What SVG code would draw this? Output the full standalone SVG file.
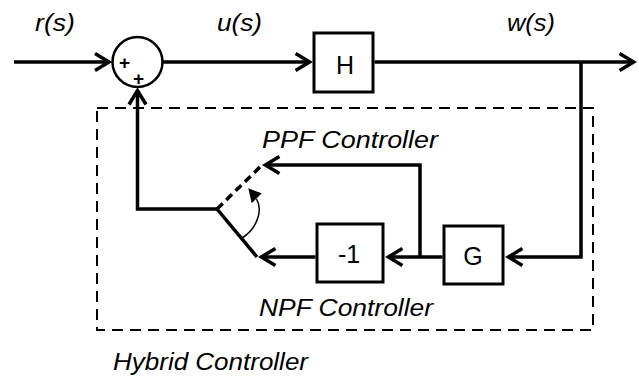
<svg xmlns="http://www.w3.org/2000/svg" width="639" height="377" viewBox="0 0 639 377">
<style>
  .ln { fill: none; stroke: #000; stroke-width: 3.5; stroke-linejoin: miter; }
  .box { fill: #fff; stroke: #000; stroke-width: 3; }
  .lbl { font-family: "Liberation Sans", Arial, sans-serif; font-style: italic; font-size: 24px; fill: #000; }
  .blk { font-family: "Liberation Sans", Arial, sans-serif; font-size: 25px; fill: #000; text-anchor: middle; }
  .pl { font-family: "Liberation Sans", Arial, sans-serif; font-size: 19px; font-weight: bold; fill: #000; text-anchor: middle; }
</style>
<defs>
  <marker id="ah" markerUnits="userSpaceOnUse" markerWidth="24" markerHeight="24" refX="16" refY="10" orient="auto" viewBox="0 0 24 20" overflow="visible">
    <path d="M2,1.5 L16,10 L2,18.5" fill="none" stroke="#000" stroke-width="3.5" stroke-linejoin="miter"/>
  </marker>
</defs>
<rect x="0" y="0" width="639" height="377" fill="#fff"/>

<g id="hybrid-boundary">
  <rect x="97" y="108" width="496" height="222" fill="none" stroke="#000" stroke-width="2" stroke-dasharray="11 7"/>
</g>

<g id="connectors">
  <path class="ln" d="M14 62 L109 62" marker-end="url(#ah)"/>
  <path class="ln" d="M162.5 62 L309.6 62" marker-end="url(#ah)"/>
  <path class="ln" d="M374.5 62 L633.6 62" marker-end="url(#ah)"/>
  <path class="ln" d="M581 62 L581 257 L508.4 257" marker-end="url(#ah)"/>
  <path class="ln" d="M442.5 257 L388.4 257" marker-end="url(#ah)"/>
  <path class="ln" d="M420 257 L420 165 L265.4 165" marker-end="url(#ah)"/>
  <path class="ln" d="M315.5 257 L261.4 257" marker-end="url(#ah)"/>
  <path class="ln" d="M217 209 L262 165" stroke-dasharray="8 5"/>
  <path class="ln" d="M217 209 L257 257"/>
  <path class="ln" d="M217 209 L137.5 209 L137.5 90.5" marker-end="url(#ah)"/>
  <path d="M242 238 C 255 230 264 212 256.5 199" fill="none" stroke="#000" stroke-width="1.5"/>
  <polygon points="248.3,188.3 261.7,193.3 251.7,203.3" fill="#000"/>
</g>

<g id="sum">
  <circle cx="137.5" cy="62" r="25" fill="#fff" stroke="#000" stroke-width="2.5"/>
  <text class="pl" x="124.5" y="69">+</text>
  <text class="pl" x="138.5" y="84.5">+</text>
</g>

<g id="H">
  <rect class="box" x="314" y="33" width="59" height="59"/>
  <text class="blk" x="345" y="74" font-size="26">H</text>
</g>

<g id="G">
  <rect class="box" x="444" y="226" width="59" height="58"/>
  <text class="blk" x="473" y="265">G</text>
</g>

<g id="neg">
  <rect class="box" x="317" y="224" width="66" height="58"/>
  <text class="blk" x="349" y="263">-1</text>
</g>

<g id="labels">
  <text class="lbl" x="35" y="31" textLength="40" lengthAdjust="spacingAndGlyphs">r(s)</text>
  <text class="lbl" x="217" y="31" textLength="45" lengthAdjust="spacingAndGlyphs">u(s)</text>
  <text class="lbl" x="507" y="31" textLength="48" lengthAdjust="spacingAndGlyphs">w(s)</text>
  <text class="lbl" x="262" y="148" textLength="176" lengthAdjust="spacingAndGlyphs">PPF Controller</text>
  <text class="lbl" x="259" y="316" textLength="174" lengthAdjust="spacingAndGlyphs">NPF Controller</text>
  <text class="lbl" x="113" y="370" textLength="195" lengthAdjust="spacingAndGlyphs">Hybrid Controller</text>
</g>
</svg>
